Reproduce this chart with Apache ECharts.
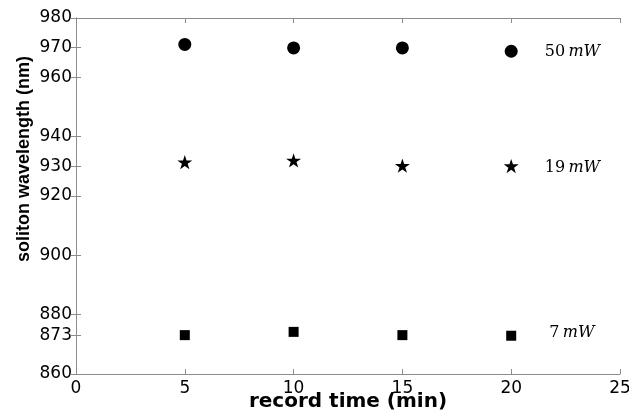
<!DOCTYPE html>
<html>
<head>
<meta charset="utf-8">
<script src="https://cdn.jsdelivr.net/npm/echarts@6/dist/echarts.min.js"></script>
<style>
  html, body { margin: 0; padding: 0; background: #fff; }
  #chart { width: 629px; height: 416px; }
</style>
</head>
<body>
<div id="chart"></div>
<script>
  // record time (min)
  var times = [5, 10, 15, 20];
  // soliton wavelength (nm) per pump power
  var wl50 = [971.1, 969.9, 969.9, 968.8];
  var wl19 = [931.4, 932.0, 930.2, 930.1];
  var wl7 = [873.1, 874.2, 873.1, 872.9];
  var powers = ['50', '19', '7'];
  var yTicks = [860, 873, 880, 900, 920, 930, 940, 960, 970, 980];
  var xTicks = [0, 5, 10, 15, 20, 25];

  var starPath = 'path://M50 0 L61.23 34.55 L97.55 34.55 L68.16 55.9 L79.39 90.45 L50 69.1 L20.61 90.45 L31.84 55.9 L2.45 34.55 L38.77 34.55 Z';
  var axisGrey = '#8c8c8c';

  function pts(vals, labelOpt) {
    return times.map(function (t, i) {
      if (i === times.length - 1) {
        return { value: [t, vals[i]], label: labelOpt };
      }
      return [t, vals[i]];
    });
  }

  function powerLabel(p, dist, dy) {
    return {
      show: true,
      position: 'right',
      distance: dist,
      offset: [0, dy],
      formatter: '{n|' + p + '} {u|mW}',
      rich: {
        n: { fontFamily: 'DejaVu Serif', fontSize: 16, color: '#000' },
        u: { fontFamily: 'DejaVu Serif', fontStyle: 'italic', fontSize: 16, color: '#000' }
      }
    };
  }

  var myChart = echarts.init(document.getElementById('chart'));
  var option = {
    backgroundColor: '#fff',
    animation: false,
    grid: {
      left: 76,
      right: 9,
      top: 18,
      bottom: 42,
      containLabel: false,
      outerBoundsMode: 'none'
    },
    xAxis: [{
      type: 'value',
      min: 0,
      max: 25,
      interval: 5,
      name: 'record time (min)',
      nameLocation: 'middle',
      nameGap: 28,
      nameMoveOverlap: false,
      nameTextStyle: {
        fontFamily: 'DejaVu Sans',
        fontWeight: 'bold',
        fontSize: 20,
        color: '#000',
        verticalAlign: 'middle'
      },
      axisLine: { lineStyle: { color: axisGrey, width: 1 } },
      axisTick: { inside: true, length: 5, lineStyle: { color: axisGrey } },
      axisLabel: {
        margin: 6,
        fontFamily: 'DejaVu Sans',
        fontSize: 17,
        color: '#000',
        customValues: xTicks
      },
      splitLine: { show: false }
    }, {
      type: 'value',
      position: 'top',
      min: 0,
      max: 25,
      interval: 5,
      axisLine: { lineStyle: { color: axisGrey, width: 1 } },
      axisTick: { inside: true, length: 5, lineStyle: { color: axisGrey } },
      axisLabel: { show: false },
      splitLine: { show: false }
    }],
    yAxis: [{
      type: 'value',
      min: 860,
      max: 980,
      name: 'soliton wavelength (nm)',
      nameLocation: 'middle',
      nameGap: 52,
      nameMoveOverlap: false,
      nameRotate: 90,
      nameTextStyle: {
        fontFamily: 'Liberation Sans',
        fontWeight: 'bold',
        fontSize: 18,
        color: '#000',
        verticalAlign: 'middle',
        padding: [0, 0, 0, 74]
      },
      axisLine: { show: true, lineStyle: { color: axisGrey, width: 1 } },
      axisTick: { show: true, inside: true, length: 5, lineStyle: { color: axisGrey }, customValues: yTicks },
      axisLabel: {
        margin: 4,
        fontFamily: 'DejaVu Sans',
        fontSize: 17,
        color: '#000',
        customValues: yTicks
      },
      splitLine: { show: false }
    }, {
      type: 'value',
      position: 'right',
      min: 860,
      max: 980,
      axisLine: { show: true, lineStyle: { color: axisGrey, width: 1 } },
      axisTick: { show: true, inside: true, length: 5, lineStyle: { color: axisGrey }, customValues: yTicks },
      axisLabel: { show: false },
      splitLine: { show: false }
    }],
    series: [{
      name: '50 mW',
      type: 'scatter',
      symbol: 'circle',
      symbolSize: 13,
      itemStyle: { color: '#000', opacity: 1 },
      data: pts(wl50, powerLabel(powers[0], 27, 1))
    }, {
      name: '19 mW',
      type: 'scatter',
      symbol: starPath,
      symbolSize: 15,
      symbolKeepAspect: true,
      itemStyle: { color: '#000', opacity: 1 },
      data: pts(wl19, powerLabel(powers[1], 26, 2))
    }, {
      name: '7 mW',
      type: 'scatter',
      symbol: 'rect',
      symbolSize: 10,
      itemStyle: { color: '#000', opacity: 1 },
      data: pts(wl7, powerLabel(powers[2], 33, -3))
    }]
  };
  myChart.setOption(option);
</script>
</body>
</html>
